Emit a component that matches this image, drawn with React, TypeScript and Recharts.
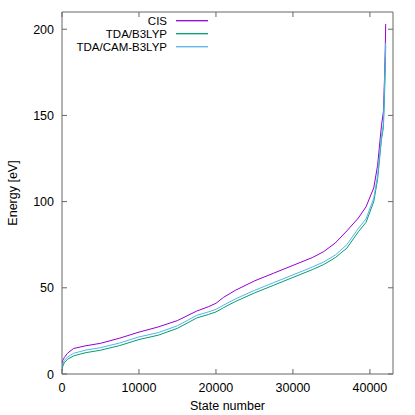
import React from 'react';
import { LineChart, Line, XAxis, YAxis, Legend } from 'recharts';

const stateNumbers = [0, 100, 300, 700, 1500, 3000, 5000, 7500, 10000, 12500, 15000, 17500, 19000, 20000, 21000, 22500, 25000, 27500, 30000, 32500, 34000, 35500, 37000, 38500, 39500, 40500, 41000, 41500, 41750, 41900, 42000, 42050];
const cisEnergy = [6, 8, 9.5, 12, 14.8, 16.3, 17.8, 20.8, 24.3, 27.3, 31, 36.5, 39, 41, 44.5, 48.5, 54, 58.5, 63, 67.5, 71, 76, 83, 90.5, 97, 108, 121, 144, 152, 172, 190, 203];
const b3lypEnergy = [1.5, 4.5, 6.5, 8.5, 10.5, 12.3, 13.8, 16.5, 20, 22.5, 26.5, 32.5, 34.5, 36, 38.5, 42, 47, 51.5, 56, 60.5, 63.5, 67.5, 73, 82.5, 88, 100, 113, 136, 143, 162, 178, 190];
const camB3lypEnergy = [2.5, 5.5, 7.8, 9.8, 12, 13.8, 15.3, 18, 21.5, 24, 28, 34, 36, 37.5, 40, 43.5, 48.5, 53, 57.5, 62, 65, 69, 75, 84.5, 90, 102, 115, 138, 145, 168, 183, 192];

const xTicks = [0, 10000, 20000, 30000, 40000];
const yTicks = [0, 50, 100, 150, 200];
const xDomain = [0, 43000];
const yDomain = [0, 210];

const seriesKeys = ['cis', 'b3lyp', 'cam'];
const seriesNames = ['CIS', 'TDA/B3LYP', 'TDA/CAM-B3LYP'];
const seriesColors = ['#9400d3', '#009e73', '#56b4e9'];

const data = stateNumbers.map((x, i) => ({
  x,
  cis: cisEnergy[i],
  b3lyp: b3lypEnergy[i],
  cam: camB3lypEnergy[i],
}));

const FONT = '"Liberation Sans", Arial, sans-serif';
const FS = 12.5;
const AXIS_COLOR = '#666666';
const TICK_LEN = 5;

const BottomTick = (props: any) => {
  const { x, y, payload } = props;
  return (
    <g>
      <line x1={x} y1={y} x2={x} y2={y - TICK_LEN} stroke={AXIS_COLOR} />
      <text x={x} y={y + 17.5} textAnchor="middle" fontSize={FS} fontFamily={FONT} fill="#000">
        {payload.value}
      </text>
    </g>
  );
};

const TopTick = (props: any) => {
  const { x, y } = props;
  return <line x1={x} y1={y} x2={x} y2={y + TICK_LEN} stroke={AXIS_COLOR} />;
};

const LeftTick = (props: any) => {
  const { x, y, payload } = props;
  return (
    <g>
      <line x1={x} y1={y} x2={x + TICK_LEN} y2={y} stroke={AXIS_COLOR} />
      <text x={x - 8} y={y + 4.5} textAnchor="end" fontSize={FS} fontFamily={FONT} fill="#000">
        {payload.value}
      </text>
    </g>
  );
};

const RightTick = (props: any) => {
  const { x, y } = props;
  return <line x1={x} y1={y} x2={x - TICK_LEN} y2={y} stroke={AXIS_COLOR} />;
};

const LEG_FS = 11.5;
const LEG_GAP = 13;

const LegendContent = (props: any) => {
  const payload = props.payload || [];
  return (
    <svg width={230} height={60} style={{ display: 'block' }}>
      {payload.map((entry: any, i: number) => (
        <g key={i}>
          <text x={167} y={24.8 + i * LEG_GAP} textAnchor="end" fontSize={LEG_FS} fontFamily={FONT} fill="#000">
            {entry.value}
          </text>
          <line x1={176} x2={208} y1={20.7 + i * LEG_GAP} y2={20.7 + i * LEG_GAP} stroke={entry.color} strokeWidth={1.3} />
        </g>
      ))}
    </svg>
  );
};

export default function App() {
  return (
    <div style={{ position: 'absolute', left: 0, top: 0, width: 415, height: 415, background: '#fff' }}>
      <LineChart width={415} height={415} data={data} margin={{ top: 2, right: 12, bottom: 0, left: 0 }}>
        <XAxis
          xAxisId="bottom"
          dataKey="x"
          type="number"
          domain={xDomain}
          ticks={xTicks}
          allowDataOverflow
          height={41}
          tickSize={0}
          tickMargin={0}
          tickLine={false}
          stroke={AXIS_COLOR}
          tick={<BottomTick />}
          label={(p: any) => {
            const vb = p.viewBox;
            return (
              <text x={vb.x + vb.width / 2} y={vb.y + 36} textAnchor="middle" fontSize={FS} fontFamily={FONT} fill="#000">
                State number
              </text>
            );
          }}
        />
        <XAxis
          xAxisId="top"
          orientation="top"
          dataKey="x"
          type="number"
          domain={xDomain}
          ticks={xTicks}
          allowDataOverflow
          height={10}
          tickSize={0}
          tickMargin={0}
          tickLine={false}
          stroke={AXIS_COLOR}
          tick={<TopTick />}
        />
        <YAxis
          yAxisId="left"
          type="number"
          domain={yDomain}
          ticks={yTicks}
          allowDataOverflow
          width={62}
          tickSize={0}
          tickMargin={0}
          tickLine={false}
          stroke={AXIS_COLOR}
          tick={<LeftTick />}
          label={(p: any) => {
            const vb = p.viewBox;
            const cy = vb.y + vb.height / 2;
            return (
              <text x={17} y={cy} transform={`rotate(-90, 17, ${cy})`} textAnchor="middle" fontSize={FS} fontFamily={FONT} fill="#000">
                Energy [eV]
              </text>
            );
          }}
        />
        <YAxis
          yAxisId="right"
          orientation="right"
          type="number"
          domain={yDomain}
          ticks={yTicks}
          allowDataOverflow
          width={10}
          tickSize={0}
          tickMargin={0}
          tickLine={false}
          stroke={AXIS_COLOR}
          tick={<RightTick />}
        />
        <Legend
          layout="horizontal"
          verticalAlign="middle"
          align="center"
          wrapperStyle={{ position: 'absolute', left: 0, top: 0, width: 230, height: 60 }}
          content={<LegendContent />}
        />
        {seriesKeys.map((k, i) => (
          <Line
            key={k}
            xAxisId="bottom"
            yAxisId="left"
            type="linear"
            dataKey={k}
            name={seriesNames[i]}
            stroke={seriesColors[i]}
            strokeWidth={1}
            dot={false}
            isAnimationActive={false}
          />
        ))}
      </LineChart>
    </div>
  );
}
